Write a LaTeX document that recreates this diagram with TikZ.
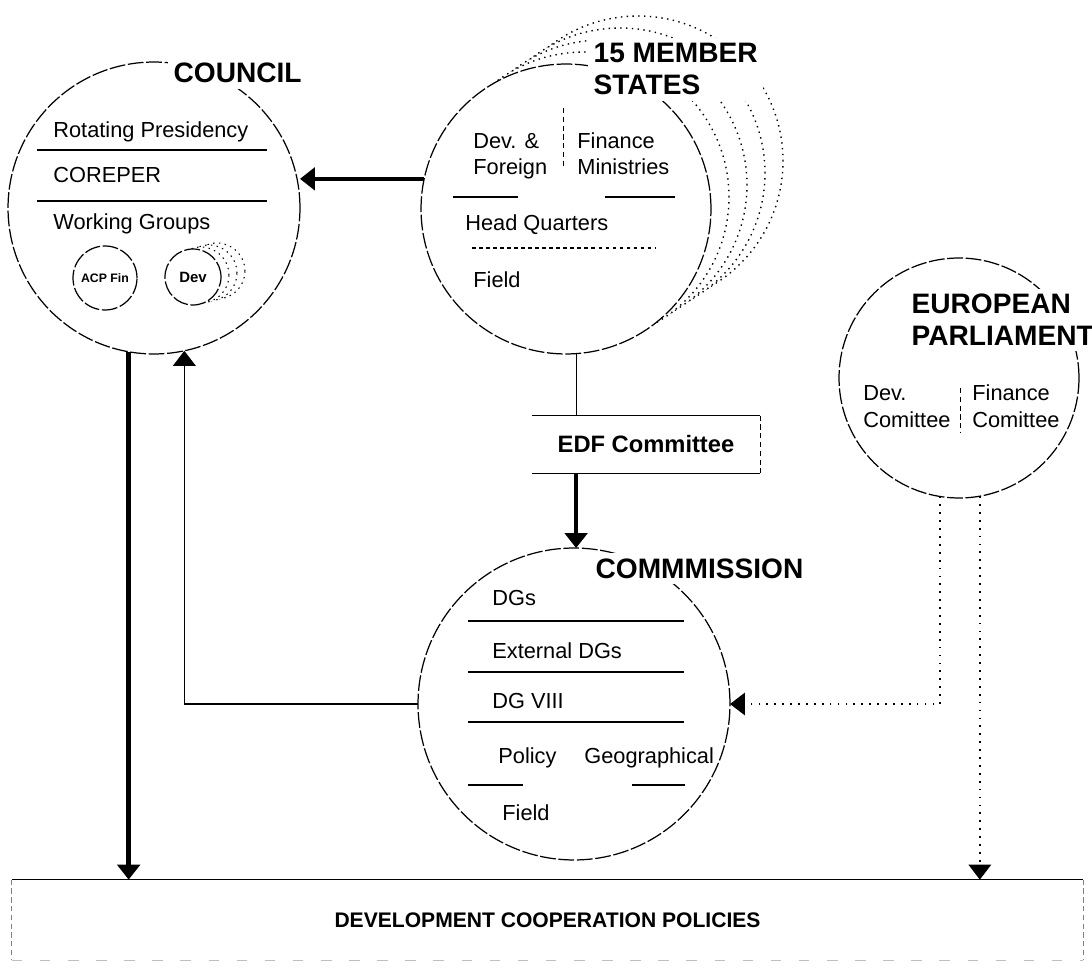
\documentclass[tikz,border=0pt]{standalone}
\usepackage{fontspec}
\setmainfont{Liberation Sans}
\usepackage{tikz}
\usetikzlibrary{arrows.meta}

\tikzset{
  ring/.style={circle, draw, fill=white, inner sep=0pt, outer sep=0pt, line width=0.7pt, dash pattern=on 9pt off 1.5pt},
  ghost/.style={circle, draw, fill=white, inner sep=0pt, outer sep=0pt, line width=0.8pt, dash pattern=on 0.8pt off 2.5pt},
  body/.style={anchor=base west, inner sep=0pt, align=left, font=\fontsize{12.4}{15.3}\selectfont},
  headline/.style={anchor=base west, inner sep=3pt, fill=white, align=left, font=\fontsize{16}{18.5}\selectfont\bfseries},
  rule/.style={line width=0.6pt},
  bigarrow/.style={line width=2.6pt, -{Triangle[length=0.3cm,width=0.45cm]}},
  thinarrow/.style={line width=0.9pt, -{Triangle[length=0.3cm,width=0.45cm]}},
  dotarrow/.style={line width=0.9pt, dash pattern=on 1pt off 3.5pt, -{Triangle[length=0.3cm,width=0.45cm]}}
}

\begin{document}
\begin{tikzpicture}[x=0.02cm,y=-0.02cm]
\useasboundingbox (0,0) rectangle (1092,969);
\coordinate (A) at (154,208);
\coordinate (B) at (566,209);
\coordinate (C) at (574,704);
\coordinate (D) at (959,378);

% council
\node[ring, minimum size=5.84cm] (council) at (A) {};
\node[headline] (counciltitle) at (168,83) {COUNCIL};
\node[body] (presidency) at (53,138) {Rotating Presidency};
\draw[rule] (37,150) -- (267,150);
\node[body] (coreper) at (53,183) {COREPER};
\draw[rule] (37,201) -- (267,201);
\node[body] (groups) at (53,230) {Working Groups};
\node[ring, minimum size=1.28cm, font=\fontsize{7}{8}\selectfont\bfseries] (acp) at (105,278) {ACP Fin};
\foreach \k in {3,2,1}
  \node[ghost, line width=0.6pt, minimum size=1.12cm] (devg\k) at (193+8*\k,277-2*\k) {};
\node[ring, minimum size=1.12cm, font=\fontsize{8.5}{9}\selectfont\bfseries] (dev) at (193,277) {Dev};

% member states, one circle in front of the others
\foreach \k in {4,3,2,1}
  \node[ghost, minimum size=5.8cm] (ms\k) at (566+18*\k,209-12*\k) {};
\node[ring, minimum size=5.8cm] (members) at (B) {};
\node[headline] (memberstitle) at (588,95) {15 MEMBER\\STATES};
\node[body] (devforeign) at (473,175) {Dev. \&\\Foreign};
\node[body] (finance) at (577,175) {Finance\\Ministries};
\draw[line width=0.5pt, densely dashed] (563,108) -- (563,168);
\draw[rule] (453,197) -- (518,197);
\draw[rule] (605,197) -- (675,197);
\node[body] (hq) at (465,231) {Head Quarters};
\draw[line width=0.6pt, dash pattern=on 2pt off 2pt] (472,248) -- (655,248);
\node[body] (msfield) at (473,288) {Field};

% EDF committee
\node[minimum width=4.56cm, minimum height=1.14cm, inner sep=0pt, font=\fontsize{13.5}{15}\selectfont\bfseries] (edf) at (646,444.5) {EDF Committee};
\draw[rule] (edf.north west) -- (edf.north east);
\draw[rule] (edf.south west) -- (edf.south east);
\draw[line width=0.5pt, densely dashed] (edf.north east) -- (edf.south east);

% commission
\node[ring, minimum size=6.24cm] (commission) at (C) {};
\node[headline] (commtitle) at (590,578) {COMMMISSION};
\node[body] (dgs) at (492,605) {DGs};
\draw[rule] (468,621) -- (684,621);
\node[body] (extdgs) at (492,658) {External DGs};
\draw[rule] (468,672) -- (684,672);
\node[body] (dgviii) at (492,708) {DG VIII};
\draw[rule] (468,722) -- (684,722);
\node[body] (policy) at (498,763) {Policy};
\node[body] (geo) at (584,763) {Geographical};
\draw[rule] (468,785) -- (523,785);
\draw[rule] (632,785) -- (685,785);
\node[body] (cmfield) at (502,820) {Field};

% parliament
\node[ring, minimum size=4.8cm] (parliament) at (D) {};
\node[headline] (eptitle) at (906,346) {EUROPEAN\\PARLIAMENT};
\node[body] (devcom) at (863,427) {Dev.\\Comittee};
\node[body] (fincom) at (972,427) {Finance\\Comittee};
\draw[line width=0.5pt, densely dashed] (960,388) -- (960,433);

% policies box
\node[minimum width=21.42cm, minimum height=1.6cm, inner sep=0pt, font=\fontsize{12}{14}\selectfont\bfseries] (policies) at (547.5,920) {DEVELOPMENT COOPERATION POLICIES};
\draw[rule] (policies.north west) -- (policies.north east);
\draw[line width=0.4pt, gray, densely dashed] (policies.north west) -- (policies.south west);
\draw[line width=0.4pt, gray, densely dashed] (policies.north east) -- (policies.south east);
\draw[line width=0.4pt, gray!50, dash pattern=on 6pt off 10pt] (policies.south west) -- (policies.south east);

% connectors
\draw[bigarrow] (members.168) -- (members.168 -| council.east);
\draw[rule] (members.-86) -- (members.-86 |- edf.north);
\draw[bigarrow] (members.-86 |- edf.south) -- (members.-86 |- commission.north);
\draw[bigarrow] (council.-100) -- (council.-100 |- policies.north);
\draw[thinarrow] (commission.west) -| (council.-78);
\draw[dotarrow] (parliament.-99) |- (commission.east);
\draw[dotarrow] (parliament.-80) -- (parliament.-80 |- policies.north);
\end{tikzpicture}
\end{document}
